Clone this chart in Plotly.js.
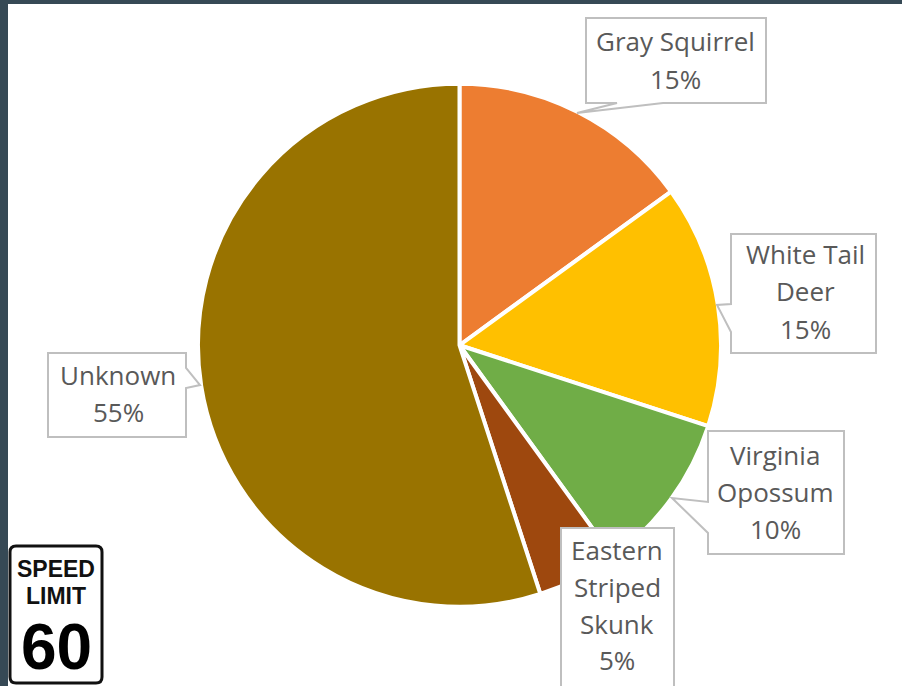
<!DOCTYPE html>
<html>
<head>
<meta charset="utf-8">
<script src="https://cdn.plot.ly/plotly-3.0.1.min.js"></script>
<style>html,body{margin:0;padding:0;background:#364955;overflow:hidden}</style>
</head>
<body>
<div id="chart" style="width:902px;height:686px"></div>
<script>
// Roadkill counts along a 60 mph stretch, as shares of the total
const species = ['Gray Squirrel', 'White Tail Deer', 'Virginia Opossum', 'Eastern Striped Skunk', 'Unknown'];
const shares = [15, 15, 10, 5, 55];
const sliceColors = ['#ED7D31', '#FFC000', '#70AD47', '#9E480E', '#997300'];
const labelLines = [
  ['Gray Squirrel'],
  ['White Tail', 'Deer'],
  ['Virginia', 'Opossum'],
  ['Eastern', 'Striped', 'Skunk'],
  ['Unknown']
];

const W = 902, H = 686;
const px = x => x / W;
const py = y => 1 - y / H;

// Callout outlines: box corners plus pointer, in page pixels
const callouts = [
  {pts: [[586,18],[766,18],[766,103],[663,103],[577,113],[617,103],[586,103]], cx: 675, ys: [41,79]},
  {pts: [[731,234],[876,234],[876,353],[731,353],[731,332],[717,305],[731,304]], cx: 805, ys: [254,291,329]},
  {pts: [[708,431],[844,431],[844,554],[708,554],[708,533],[672,498],[708,502]], cx: 775, ys: [455,492,529]},
  {pts: [[561,528],[674,528],[674,690],[561,690]], cx: 617, ys: [550,587,624,660]},
  {pts: [[48,353],[186,353],[186,368],[200,385],[186,388],[186,437],[48,437]], cx: 118, ys: [375,412]}
];

const toPath = pts => 'M' + pts.map(p => px(p[0]) + ',' + py(p[1])).join('L') + 'Z';

const shapes = [
  // white chart surface inside the dark window edge
  {type: 'rect', xref: 'paper', yref: 'paper', layer: 'below',
   x0: px(8), x1: 1, y0: 0, y1: py(4), fillcolor: '#FFFFFF', line: {width: 0}},
  // speed limit sign plate
  {type: 'path', xref: 'paper', yref: 'paper', layer: 'above',
   path: 'M' + px(16) + ',' + py(546) + 'L' + px(96) + ',' + py(546) +
         'Q' + px(102) + ',' + py(546) + ' ' + px(102) + ',' + py(552) +
         'L' + px(102) + ',' + py(677) +
         'Q' + px(102) + ',' + py(683) + ' ' + px(96) + ',' + py(683) +
         'L' + px(16) + ',' + py(683) +
         'Q' + px(10) + ',' + py(683) + ' ' + px(10) + ',' + py(677) +
         'L' + px(10) + ',' + py(552) +
         'Q' + px(10) + ',' + py(546) + ' ' + px(16) + ',' + py(546) + 'Z',
   fillcolor: '#FFFFFF', line: {color: '#111111', width: 3}}
];
callouts.forEach(c => shapes.push({
  type: 'path', xref: 'paper', yref: 'paper', layer: 'above',
  path: toPath(c.pts), fillcolor: '#FFFFFF', line: {color: '#BFBFBF', width: 2}
}));

const textStyle = {family: '"Open Sans", sans-serif', size: 26, color: '#595959'};
const annotations = [];
const addText = (text, x, y, font) => annotations.push({
  text, x: px(x), y: py(y), xref: 'paper', yref: 'paper',
  xanchor: 'center', yanchor: 'middle', showarrow: false, font
});
callouts.forEach((c, i) => {
  const lines = labelLines[i].concat(shares[i] + '%');
  lines.forEach((line, j) => addText(line, c.cx, c.ys[j], textStyle));
});

const signFont = {family: '"Liberation Sans", sans-serif', size: 23, color: '#111111', weight: 700};
addText('SPEED', 56, 569, signFont);
addText('LIMIT', 56, 596, signFont);
addText('60', 56, 647, {family: '"Liberation Sans", sans-serif', size: 64, color: '#000000', weight: 700});

Plotly.newPlot('chart', [{
  type: 'pie',
  labels: species,
  values: shares,
  sort: false,
  direction: 'clockwise',
  rotation: 0,
  textinfo: 'none',
  hoverinfo: 'label+percent',
  marker: {colors: sliceColors, line: {color: '#FFFFFF', width: 4}},
  domain: {x: [px(198), px(721)], y: [py(607), py(83.5)]}
}], {
  width: W,
  height: H,
  margin: {l: 0, r: 0, t: 0, b: 0},
  paper_bgcolor: '#364955',
  showlegend: false,
  shapes,
  annotations
}, {displayModeBar: false});
</script>
</body>
</html>
